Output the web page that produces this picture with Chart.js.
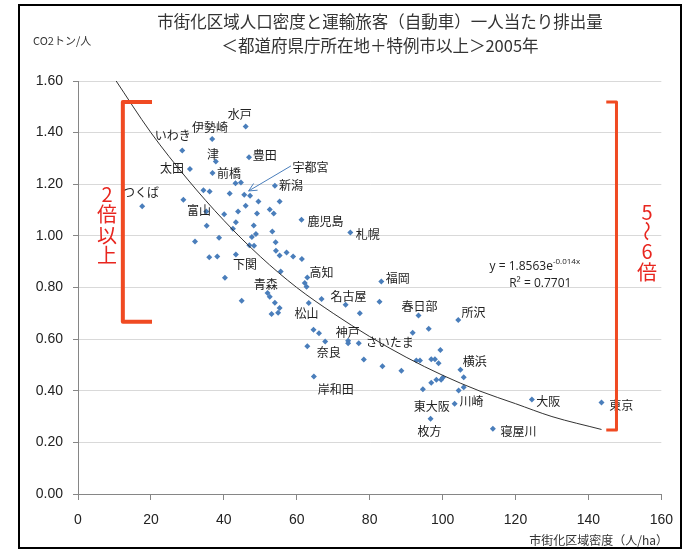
<!DOCTYPE html>
<html lang="ja">
<head>
<meta charset="UTF-8">
<title>市街化区域人口密度と運輸旅客（自動車）一人当たり排出量</title>
<script src="https://cdn.jsdelivr.net/npm/chart.js"></script>
<style>
  body { margin: 0; background: #fff; }
</style>
</head>
<body>
<canvas id="co2Chart" width="685" height="550"></canvas>
<script>
// 市街化区域密度 (人/ha)
const density = [
  46.0, 36.8, 28.6, 46.9, 37.8, 30.7, 36.9, 43.2, 44.7, 54.0,
  34.4, 36.1, 41.6, 45.6, 47.2, 28.9, 17.6, 35.2, 40.1, 46.0,
  49.5, 55.3, 43.9, 49.1, 52.6, 53.7, 35.3, 43.3, 48.2, 61.3,
  42.5, 53.3, 74.7, 47.7, 48.8, 32.1, 38.7, 47.0, 48.3, 54.2,
  54.3, 55.3, 57.2, 59.0, 61.4, 36.0, 38.2, 43.3, 55.6, 40.3,
  62.9, 62.2, 62.7, 83.2, 44.9, 52.0, 52.6, 54.0, 55.3, 54.9,
  53.1, 66.8, 63.3, 73.4, 82.7, 77.3, 93.4, 104.3, 64.6, 66.1,
  91.8, 96.2, 67.8, 74.1, 74.1, 77.0, 62.9, 99.4, 78.4, 92.8,
  93.8, 96.9, 97.9, 98.9, 83.5, 88.7, 104.9, 64.7, 105.8, 100.1,
  99.6, 98.3, 96.9, 94.6, 104.4, 105.8, 103.3, 124.5, 143.6, 96.7,
  113.8
];
// 一人当たり排出量 (CO2トン/人)
const emission = [
  1.424, 1.375, 1.331, 1.305, 1.288, 1.259, 1.244, 1.204, 1.207, 1.194,
  1.177, 1.172, 1.164, 1.159, 1.155, 1.140, 1.115, 1.094, 1.084, 1.117,
  1.133, 1.133, 1.094, 1.087, 1.102, 1.087, 1.039, 1.053, 1.040, 1.062,
  1.028, 1.017, 1.013, 0.996, 1.007, 0.978, 0.993, 0.964, 0.962, 0.975,
  0.942, 0.924, 0.936, 0.920, 0.910, 0.917, 0.920, 0.928, 0.862, 0.838,
  0.839, 0.817, 0.803, 0.823, 0.749, 0.779, 0.764, 0.741, 0.721, 0.702,
  0.697, 0.755, 0.740, 0.733, 0.745, 0.700, 0.692, 0.674, 0.636, 0.623,
  0.625, 0.640, 0.591, 0.594, 0.584, 0.584, 0.572, 0.558, 0.521, 0.517,
  0.517, 0.522, 0.522, 0.507, 0.495, 0.477, 0.481, 0.455, 0.452, 0.451,
  0.443, 0.443, 0.431, 0.406, 0.401, 0.414, 0.350, 0.366, 0.354, 0.292,
  0.253
];

// 近似曲線 (指数)
const trendX = [10, 20, 30, 40, 50, 60, 70, 80, 90, 100, 110, 120, 130, 143.6];
const trendY = [1.61, 1.40, 1.22, 1.06, 0.92, 0.80, 0.70, 0.61, 0.53, 0.46, 0.40, 0.35, 0.30, 0.25];

// city names and where their text sits (data units)
const cityNames = ['水戸', '伊勢崎', 'いわき', '津', '豊田', '太田', '前橋', '宇都宮', '新潟', 'つくば',
  '富山', '鹿児島', '札幌', '下関', '高知', '福岡', '青森', '名古屋', '春日部', '所沢',
  '松山', '神戸', 'さいたま', '奈良', '横浜', '岸和田', '東大阪', '川崎', '大阪', '東京',
  '枚方', '寝屋川'];
const cityLabelX = [44.4, 36.2, 26.0, 37.0, 51.2, 25.8, 41.4, 63.8, 58.4, 17.3,
  33.2, 67.9, 79.5, 45.8, 66.8, 87.7, 51.5, 74.2, 93.7, 108.5,
  62.7, 74.0, 85.5, 68.8, 108.8, 70.7, 97.0, 107.9, 129.0, 149.0,
  96.4, 120.8];
const cityLabelY = [1.469, 1.422, 1.388, 1.314, 1.310, 1.260, 1.240, 1.267, 1.194, 1.167,
  1.097, 1.054, 1.004, 0.888, 0.857, 0.837, 0.810, 0.766, 0.725, 0.702,
  0.700, 0.624, 0.589, 0.548, 0.512, 0.407, 0.341, 0.359, 0.359, 0.345,
  0.242, 0.244];

const xTicks = [0, 20, 40, 60, 80, 100, 120, 140, 160];
const yTicks = [0, 0.2, 0.4, 0.6, 0.8, 1.0, 1.2, 1.4, 1.6];

const jpFont = '"Noto Sans CJK JP", sans-serif';
const red = '#e8261f';
const bracketRed = '#f04a22';

const overlay = {
  id: 'overlay',
  afterDatasetsDraw(chart) {
    const ctx = chart.ctx;
    const xs = chart.scales.x, ys = chart.scales.y;
    const px = v => xs.getPixelForValue(v);
    const py = v => ys.getPixelForValue(v);

    ctx.save();
    // city labels
    ctx.font = '12px ' + jpFont;
    ctx.fillStyle = '#222';
    ctx.textAlign = 'center';
    ctx.textBaseline = 'middle';
    cityNames.forEach((name, i) => {
      ctx.fillText(name, px(cityLabelX[i]), py(cityLabelY[i]));
    });

    // arrow 宇都宮 -> point
    const ax0 = px(58.4), ay0 = py(1.271), ax1 = px(46.8), ay1 = py(1.174);
    ctx.strokeStyle = '#4a7ebb';
    ctx.lineWidth = 1;
    ctx.beginPath();
    ctx.moveTo(ax0, ay0);
    ctx.lineTo(ax1, ay1);
    const ang = Math.atan2(ay1 - ay0, ax1 - ax0);
    ctx.moveTo(ax1, ay1);
    ctx.lineTo(ax1 - 9 * Math.cos(ang - 0.45), ay1 - 9 * Math.sin(ang - 0.45));
    ctx.moveTo(ax1, ay1);
    ctx.lineTo(ax1 - 9 * Math.cos(ang + 0.45), ay1 - 9 * Math.sin(ang + 0.45));
    ctx.stroke();

    // equation
    ctx.fillStyle = '#222';
    ctx.textAlign = 'left';
    ctx.font = '12px "Open Sans", sans-serif';
    const eqX = px(112.9), eqY = py(0.880);
    const base = 'y = 1.8563e';
    ctx.fillText(base, eqX, eqY);
    const w = ctx.measureText(base).width;
    ctx.font = '8px "Open Sans", sans-serif';
    ctx.fillText('-0.014x', eqX + w, eqY - 5);
    ctx.font = '12px "Open Sans", sans-serif';
    ctx.textAlign = 'center';
    ctx.fillText('R² = 0.7701', px(126.8), py(0.814));

    // brackets
    ctx.strokeStyle = bracketRed;
    ctx.lineWidth = 4;
    ctx.lineJoin = 'round';
    ctx.beginPath();
    ctx.moveTo(px(20.3), py(1.519));
    ctx.lineTo(px(12.3), py(1.519));
    ctx.lineTo(px(12.3), py(0.667));
    ctx.lineTo(px(20.3), py(0.667));
    ctx.stroke();
    ctx.lineWidth = 3;
    ctx.beginPath();
    ctx.moveTo(px(144.9), py(1.519));
    ctx.lineTo(px(147.7), py(1.519));
    ctx.lineTo(px(147.7), py(0.248));
    ctx.lineTo(px(144.9), py(0.248));
    ctx.stroke();

    // vertical red notes
    ctx.fillStyle = red;
    ctx.textAlign = 'center';
    ctx.textBaseline = 'middle';
    ctx.font = '20px ' + jpFont;
    const leftChars = ['2', '倍', '以', '上'];
    const leftYs = [194, 214, 235, 255];
    leftChars.forEach((c, i) => ctx.fillText(c, 107, leftYs[i]));
    const rightChars = ['5', '～', '6', '倍'];
    const rightYs = [212, 231, 251, 272];
    rightChars.forEach((c, i) => {
      if (c === '～') {
        ctx.save();
        ctx.translate(647, rightYs[i]);
        ctx.rotate(Math.PI / 2);
        ctx.fillText(c, 0, 0);
        ctx.restore();
      } else {
        ctx.fillText(c, 647, rightYs[i]);
      }
    });
    ctx.restore();
  },
  afterDraw(chart) {
    const ctx = chart.ctx;
    ctx.save();
    ctx.fillStyle = '#333';
    ctx.textAlign = 'center';
    ctx.textBaseline = 'middle';
    ctx.font = '16.5px ' + jpFont;
    ctx.fillText('市街化区域人口密度と運輸旅客（自動車）一人当たり排出量', 380, 22);
    ctx.fillText('＜都道府県庁所在地＋特例市以上＞2005年', 380, 46);

    ctx.font = '11px ' + jpFont;
    ctx.textAlign = 'left';
    ctx.fillText('CO2トン/人', 33, 41);

    ctx.font = '12px ' + jpFont;
    ctx.textAlign = 'right';
    ctx.fillText('市街化区域密度（人/ha）', 668, 540);

    // outer frame
    ctx.strokeStyle = '#000';
    ctx.lineWidth = 2;
    ctx.strokeRect(19, 5, 662, 543);
    ctx.restore();
  }
};

const ctx = document.getElementById('co2Chart').getContext('2d');
new Chart(ctx, {
  type: 'scatter',
  data: {
    datasets: [
      {
        label: '近似曲線',
        type: 'line',
        data: trendX.map((x, i) => ({ x: x, y: trendY[i] })),
        borderColor: '#333',
        borderWidth: 1,
        pointRadius: 0,
        fill: false,
        cubicInterpolationMode: 'monotone',
        order: 0
      },
      {
        label: '都市',
        data: density.map((x, i) => ({ x: x, y: emission[i] })),
        pointStyle: 'rectRot',
        pointRadius: 3,
        backgroundColor: '#4a7ebb',
        borderColor: '#4a7ebb',
        borderWidth: 0,
        order: 1
      }
    ]
  },
  options: {
    responsive: false,
    animation: false,
    layout: { padding: { top: 81, right: 23, left: 0, bottom: 0 } },
    plugins: {
      legend: { display: false },
      tooltip: { enabled: false },
      title: { display: false }
    },
    scales: {
      x: {
        type: 'linear',
        min: 0,
        max: 160,
        afterBuildTicks: s => { s.ticks = xTicks.map(v => ({ value: v })); },
        grid: { drawOnChartArea: false, drawTicks: true, tickLength: 6, tickColor: '#868686' },
        border: { color: '#868686' },
        ticks: { color: '#222', padding: 12, font: { family: 'Liberation Sans', size: 14 } },
        afterFit: s => { s.height = 56; }
      },
      y: {
        min: 0,
        max: 1.6,
        afterBuildTicks: s => { s.ticks = yTicks.map(v => ({ value: v })); },
        grid: { color: '#d9d9d9', tickLength: 5, tickColor: '#868686' },
        border: { color: '#868686' },
        ticks: {
          color: '#222',
          padding: 10,
          font: { family: 'Liberation Sans', size: 14 },
          callback: v => v.toFixed(2)
        },
        afterFit: s => { s.width = 78; }
      }
    }
  },
  plugins: [overlay]
});
</script>
</body>
</html>
